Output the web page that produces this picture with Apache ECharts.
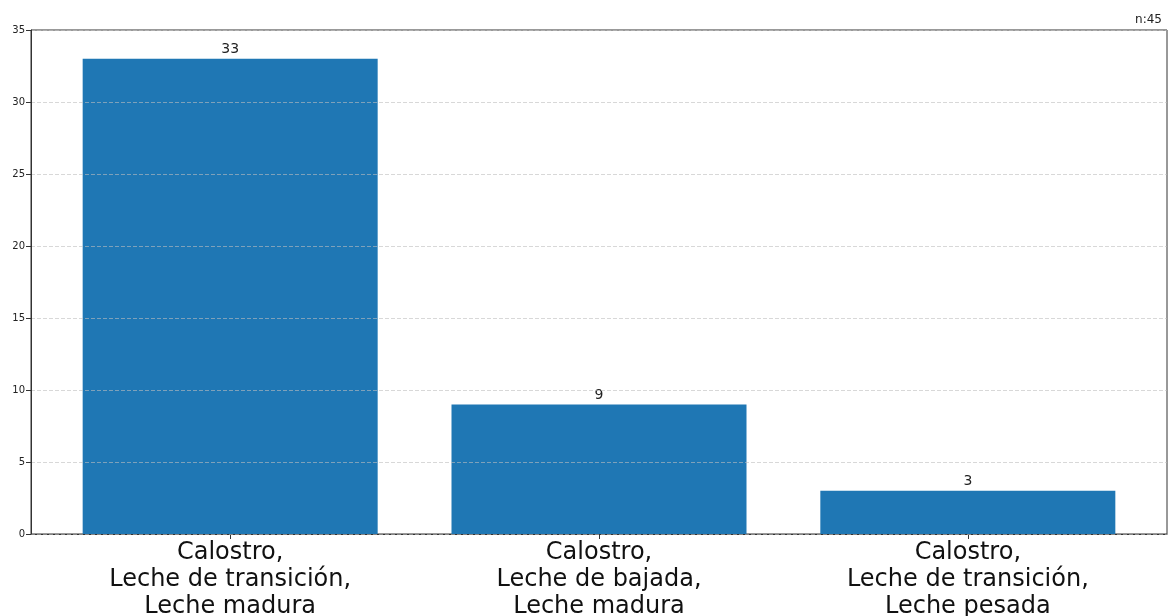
<!DOCTYPE html>
<html>
<head>
<meta charset="utf-8">
<script src="https://cdn.jsdelivr.net/npm/echarts@6/dist/echarts.min.js"></script>
<style>html,body{margin:0;padding:0;background:#fff}#c{width:1171px;height:616px}</style>
</head>
<body>
<div id="c"></div>
<script>
const categories = [
  "Calostro,\nLeche de transición,\nLeche madura",
  "Calostro,\nLeche de bajada,\nLeche madura",
  "Calostro,\nLeche de transición,\nLeche pesada"
];
const counts = [33, 9, 3];
const yTicks = [0, 5, 10, 15, 20, 25, 30, 35];
const totalLabel = "n:45";

const font = "DejaVu Sans";
const chart = echarts.init(document.getElementById('c'), null, {renderer: 'canvas'});
chart.setOption({
  animation: false,
  backgroundColor: '#fff',
  title: {
    text: totalLabel, right: 4, top: 9,
    textStyle: {fontFamily: font, fontSize: 12, fontWeight: 'normal', color: '#222'}
  },
  grid: {
    left: 31, right: 4, top: 30, bottom: 82,
    outerBoundsMode: 'none', containLabel: false,
    show: true, borderColor: '#333', borderWidth: 1, backgroundColor: 'transparent'
  },
  xAxis: {
    type: 'value', min: -0.54, max: 2.54,
    axisLine: {show: true, onZero: false, lineStyle: {color: '#333'}},
    axisTick: {show: true, length: 5, customValues: categories.map((_, i) => i), lineStyle: {color: '#333'}},
    axisLabel: {
      customValues: categories.map((_, i) => i),
      formatter: v => categories[Math.round(v)] || '',
      fontFamily: font, fontSize: 24, lineHeight: 27, color: '#111', margin: 5
    },
    splitLine: {show: false}
  },
  yAxis: {
    type: 'value', min: 0, max: 35, interval: 5, z: 3,
    axisLine: {show: true, onZero: false, lineStyle: {color: '#333'}},
    axisTick: {show: true, length: 5, lineStyle: {color: '#333'}},
    axisLabel: {fontFamily: font, fontSize: 10, color: '#222', margin: 6,
      formatter: v => yTicks.includes(v) ? String(v) : ''},
    splitLine: {show: true, lineStyle: {color: 'rgba(190,190,190,0.6)', type: [4, 2], width: 1}}
  },
  series: [{
    type: 'bar',
    data: counts.map((v, i) => [i, v]),
    barWidth: 295,
    itemStyle: {color: '#1f77b4'},
    label: {show: true, position: 'top', distance: 2, fontFamily: font, fontSize: 14, color: '#222',
      formatter: p => String(p.value[1])}
  }]
});
</script>
</body>
</html>
